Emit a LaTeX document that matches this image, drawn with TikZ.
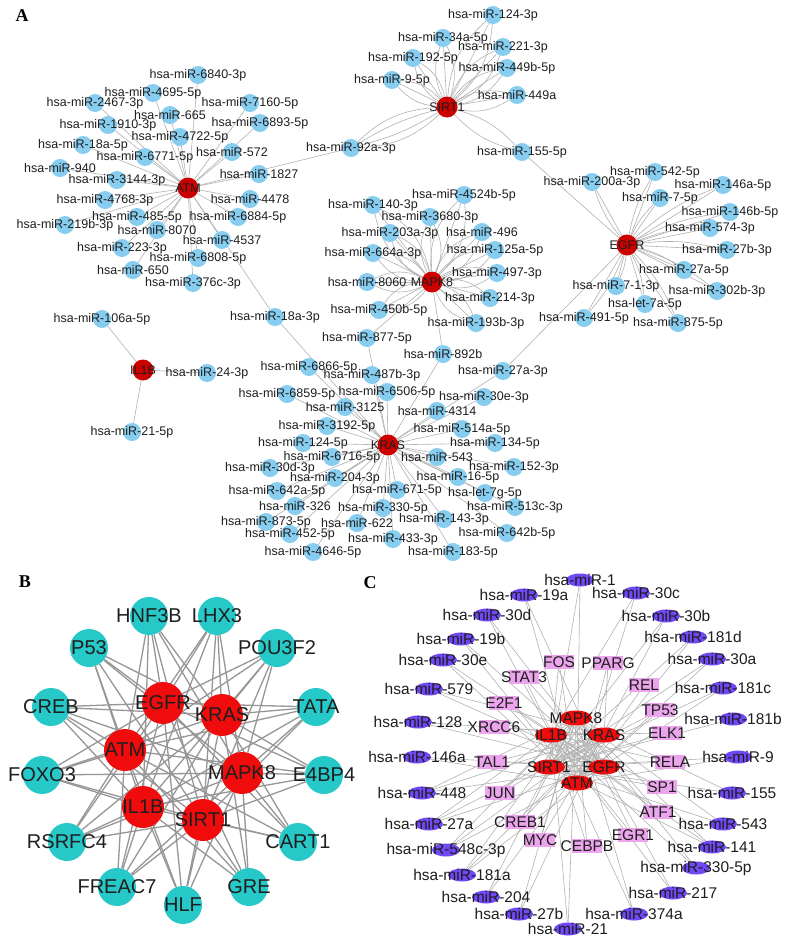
\documentclass[tikz,border=0pt]{standalone}
\usepackage{fontspec}
\setmainfont{Liberation Sans}
\newfontfamily\panelfont{Liberation Serif}
\usetikzlibrary{shapes.geometric}
\definecolor{mirblue}{RGB}{135,205,240}
\definecolor{hubred}{RGB}{205,0,0}
\definecolor{brightred}{RGB}{240,12,12}
\definecolor{tfteal}{RGB}{38,200,200}
\definecolor{mirpurple}{RGB}{112,72,245}
\definecolor{tfpink}{RGB}{236,165,236}
\definecolor{edgegray}{RGB}{178,178,178}
\definecolor{edgedark}{RGB}{150,150,150}
\definecolor{labelink}{RGB}{30,30,30}
\pgfdeclarelayer{edges}
\pgfdeclarelayer{labels}
\pgfsetlayers{edges,main,labels}
\tikzset{
  panelletter/.style={font=\panelfont\bfseries\fontsize{18}{18}\selectfont, inner sep=0pt},
  % panel A
  mirA/.style={circle, fill=mirblue, minimum size=18pt, inner sep=0pt},
  mirAtext/.style={font=\fontsize{12.5}{13}\selectfont, text=labelink, inner sep=0pt},
  hubA/.style={circle, fill=hubred, minimum size=21pt, inner sep=0pt},
  hubAtext/.style={mirAtext},
  edgeA/.style={draw=edgegray, line width=0.6pt},
  % panel B
  tfB/.style={circle, fill=tfteal, minimum size=38pt, inner sep=0pt},
  tfBtext/.style={font=\fontsize{20}{20}\selectfont, text=labelink, inner sep=0pt},
  hubB/.style={circle, fill=brightred, minimum size=42pt, inner sep=0pt},
  hubBtext/.style={tfBtext},
  edgeB/.style={draw=edgedark, line width=1.3pt},
  % panel C
  mirC/.style={ellipse, fill=mirpurple, minimum width=28pt, minimum height=13pt, inner sep=0pt},
  mirCtext/.style={font=\fontsize{15.5}{16}\selectfont, text=labelink, inner sep=0pt},
  tfC/.style={rectangle, fill=tfpink, minimum width=30pt, minimum height=14pt, inner sep=0pt},
  tfCtext/.style={mirCtext},
  hubC/.style={ellipse, fill=brightred, minimum width=32pt, minimum height=15pt, inner sep=0pt},
  hubCtext/.style={mirCtext},
  edgeC/.style={draw=edgegray, line width=0.6pt},
}
% style, name, x, y, text
\newcommand{\netnode}[5]{%
  \node[#1] (#2) at (#3,#4) {};
  \begin{pgfonlayer}{labels}\node[#1text] (#2t) at (#3,#4) {#5};\end{pgfonlayer}}

% panel A data
\def\atmA{
a01/198/75/hsa-miR-6840-3p,
a02/153/93/hsa-miR-4695-5p,
a03/95/103/hsa-miR-2467-3p,
a04/250/103/hsa-miR-7160-5p,
a05/170/115/hsa-miR-665,
a06/108/125/hsa-miR-1910-3p,
a07/260/123/hsa-miR-6893-5p,
a08/180/137/hsa-miR-4722-5p,
a09/83/145/hsa-miR-18a-5p,
a10/145/157/hsa-miR-6771-5p,
a11/232/152/hsa-miR-572,
a12/60/168/hsa-miR-940,
a13/117/180/hsa-miR-3144-3p,
a14/259/174/hsa-miR-1827,
a15/105/200/hsa-miR-4768-3p,
a16/250/199/hsa-miR-4478,
a17/137/217/hsa-miR-485-5p,
a18/238/217/hsa-miR-6884-5p,
a19/65/225/hsa-miR-219b-3p,
a20/157/230/hsa-miR-8070,
a21/222/240/hsa-miR-4537,
a22/122/248/hsa-miR-223-3p,
a23/198/258/hsa-miR-6808-5p,
a24/133/270/hsa-miR-650,
a25/193/283/hsa-miR-376c-3p}
\def\sirtA{
s01/493/15/hsa-miR-124-3p,
s02/443/38/hsa-miR-34a-5p,
s03/503/47/hsa-miR-221-3p,
s04/413/58/hsa-miR-192-5p,
s05/507/68/hsa-miR-449b-5p,
s06/392/80/hsa-miR-9-5p,
s07/517/95/hsa-miR-449a}
\def\egfrA{
e01/655/172/hsa-miR-542-5p,
e02/592/182/hsa-miR-200a-3p,
e03/723/185/hsa-miR-146a-5p,
e04/660/198/hsa-miR-7-5p,
e05/730/212/hsa-miR-146b-5p,
e06/710/228/hsa-miR-574-3p,
e07/727/250/hsa-miR-27b-3p,
e08/684/270/hsa-miR-27a-5p,
e09/616/286/hsa-miR-7-1-3p,
e10/717/291/hsa-miR-302b-3p,
e11/645/304/hsa-let-7a-5p,
e12/584/318/hsa-miR-491-5p,
e13/678/323/hsa-miR-875-5p}
\def\mapkA{
p01/464/195/hsa-miR-4524b-5p,
p02/373/205/hsa-miR-140-3p,
p03/430/217/hsa-miR-3680-3p,
p04/390/233/hsa-miR-203a-3p,
p05/482/232/hsa-miR-496,
p06/495/250/hsa-miR-125a-5p,
p07/373/253/hsa-miR-664a-3p,
p08/497/273/hsa-miR-497-3p,
p09/367/282/hsa-miR-8060,
p10/490/298/hsa-miR-214-3p,
p11/379/310/hsa-miR-450b-5p,
p12/476/323/hsa-miR-193b-3p}
\def\ilA{
i01/102/319/hsa-miR-106a-5p,
i02/207/373/hsa-miR-24-3p,
i03/132/432/hsa-miR-21-5p}
\def\krasA{
k01/309/367/hsa-miR-6866-5p,
k02/372/375/hsa-miR-487b-3p,
k03/287/394/hsa-miR-6859-5p,
k04/387/392/hsa-miR-6506-5p,
k05/484/397/hsa-miR-30e-3p,
k06/345/407/hsa-miR-3125,
k07/437/411/hsa-miR-4314,
k08/327/426/hsa-miR-3192-5p,
k09/462/429/hsa-miR-514a-5p,
k10/303/443/hsa-miR-124-5p,
k11/495/443/hsa-miR-134-5p,
k12/332/457/hsa-miR-6716-5p,
k13/437/457/hsa-miR-543,
k14/270/468/hsa-miR-30d-3p,
k15/514/467/hsa-miR-152-3p,
k16/335/478/hsa-miR-204-3p,
k17/458/477/hsa-miR-16-5p,
k18/277/491/hsa-miR-642a-5p,
k19/397/490/hsa-miR-671-5p,
k20/485/493/hsa-let-7g-5p,
k21/295/506/hsa-miR-326,
k22/383/508/hsa-miR-330-5p,
k23/515/507/hsa-miR-513c-3p,
k24/266/522/hsa-miR-873-5p,
k25/357/523/hsa-miR-622,
k26/444/519/hsa-miR-143-3p,
k27/290/534/hsa-miR-452-5p,
k28/393/539/hsa-miR-433-3p,
k29/507/533/hsa-miR-642b-5p,
k30/313/552/hsa-miR-4646-5p,
k31/453/552/hsa-miR-183-5p}
\def\sharedA{
x92a/351/148/hsa-miR-92a-3p,
x155/522/152/hsa-miR-155-5p,
x18a/275/317/hsa-miR-18a-3p,
x877/367/338/hsa-miR-877-5p,
x892/443/354/hsa-miR-892b,
x27a/503/371/hsa-miR-27a-3p}

% panel B data
\def\tfB{
b01/149/616/HNF3B,
b02/217/616/LHX3,
b03/89/648/P53,
b04/277/648/POU3F2,
b05/51/707/CREB,
b06/316/707/TATA,
b07/42/775/FOXO3,
b08/324/775/E4BP4,
b09/67/842/RSRFC4,
b10/298/842/CART1,
b11/117/887/FREAC7,
b12/183/905/HLF,
b13/249/887/GRE}

% panel C data
\def\mirC{
c01/580/580/hsa-miR-1,
c02/524/595/hsa-miR-19a,
c03/636/593/hsa-miR-30c,
c04/487/615/hsa-miR-30d,
c05/666/616/hsa-miR-30b,
c06/461/639/hsa-miR-19b,
c07/693/637/hsa-miR-181d,
c08/443/660/hsa-miR-30e,
c09/712/659/hsa-miR-30a,
c10/429/689/hsa-miR-579,
c11/723/688/hsa-miR-181c,
c12/418/722/hsa-miR-128,
c13/733/719/hsa-miR-181b,
c14/417/757/hsa-miR-146a,
c15/738/757/hsa-miR-9,
c16/422/793/hsa-miR-448,
c17/732/793/hsa-miR-155,
c18/429/824/hsa-miR-27a,
c19/723/824/hsa-miR-543,
c20/446/850/hsa-miR-548c-3p,
c21/712/847/hsa-miR-141,
c22/696/868/hsa-miR-330-5p,
c23/462/875/hsa-miR-181a,
c24/673/893/hsa-miR-217,
c25/486/897/hsa-miR-204,
c26/634/914/hsa-miR-374a,
c27/519/914/hsa-miR-27b,
c28/568/929/hsa-miR-21}
\def\tfC{
f01/559/662/FOS,
f02/608/663/PPARG,
f03/524/677/STAT3,
f04/644/685/REL,
f05/504/703/E2F1,
f06/660/710/TP53,
f07/494/727/XRCC6,
f08/667/733/ELK1,
f09/492/762/TAL1,
f10/670/762/RELA,
f11/500/793/JUN,
f12/662/787/SP1,
f13/658/812/ATF1,
f14/520/822/CREB1,
f15/633/835/EGR1,
f16/540/840/MYC,
f17/587/846/CEBPB}

\begin{document}
\begin{tikzpicture}[x=1pt,y=-1pt]
\begin{pgfonlayer}{edges}
  \fill[white] (0,0) rectangle (789,945);
\end{pgfonlayer}
\useasboundingbox (0,0) rectangle (789,945);

\node[panelletter] (lA) at (22,16) {A};
\node[panelletter] (lB) at (25,582) {B};
\node[panelletter] (lC) at (370,583) {C};

% ---------- A: miRNA-target network
\netnode{hubA}{atm}{188}{188}{ATM}
\netnode{hubA}{sirt}{447}{107}{SIRT1}
\netnode{hubA}{egfr}{627}{245}{EGFR}
\netnode{hubA}{mapk}{432}{282}{MAPK8}
\netnode{hubA}{ilb}{143}{370}{IL1B}
\netnode{hubA}{kras}{388}{445}{KRAS}
\foreach \n/\x/\y/\t in \atmA {\netnode{mirA}{\n}{\x}{\y}{\t}}
\foreach \n/\x/\y/\t in \sirtA {\netnode{mirA}{\n}{\x}{\y}{\t}}
\foreach \n/\x/\y/\t in \egfrA {\netnode{mirA}{\n}{\x}{\y}{\t}}
\foreach \n/\x/\y/\t in \mapkA {\netnode{mirA}{\n}{\x}{\y}{\t}}
\foreach \n/\x/\y/\t in \ilA {\netnode{mirA}{\n}{\x}{\y}{\t}}
\foreach \n/\x/\y/\t in \krasA {\netnode{mirA}{\n}{\x}{\y}{\t}}
\foreach \n/\x/\y/\t in \sharedA {\netnode{mirA}{\n}{\x}{\y}{\t}}

% ---------- B: TF - hub network
\netnode{hubB}{bEGFR}{163}{703}{EGFR}
\netnode{hubB}{bKRAS}{222}{715}{KRAS}
\netnode{hubB}{bATM}{125}{750}{ATM}
\netnode{hubB}{bMAPK}{242}{773}{MAPK8}
\netnode{hubB}{bIL1B}{143}{807}{IL1B}
\netnode{hubB}{bSIRT}{203}{820}{SIRT1}
\foreach \n/\x/\y/\t in \tfB {\netnode{tfB}{\n}{\x}{\y}{\t}}

% ---------- C: miRNA - TF - hub network
\foreach \n/\x/\y/\t in \mirC {\netnode{mirC}{\n}{\x}{\y}{\t}}
\foreach \n/\x/\y/\t in \tfC {\netnode{tfC}{\n}{\x}{\y}{\t}}
\netnode{hubC}{cMAPK}{576}{718}{MAPK8}
\netnode{hubC}{cIL1B}{551}{735}{IL1B}
\netnode{hubC}{cKRAS}{604}{735}{KRAS}
\netnode{hubC}{cSIRT}{549}{767}{SIRT1}
\netnode{hubC}{cEGFR}{604}{767}{EGFR}
\netnode{hubC}{cATM}{577}{783}{ATM}

\begin{pgfonlayer}{edges}
  % A
  \foreach \n/\x/\y/\t in \atmA {\draw[edgeA] (atm) -- (\n);}
  \foreach \n/\x/\y/\t in \sirtA {
    \draw[edgeA] (sirt) -- (\n);
    \draw[edgeA] (sirt) to[bend left=22] (\n);
    \draw[edgeA] (sirt) to[bend right=22] (\n);}
  \foreach \n/\x/\y/\t in \egfrA {
    \draw[edgeA] (egfr) -- (\n);
    \draw[edgeA] (egfr) to[bend left=10] (\n);}
  \foreach \n/\x/\y/\t in \mapkA {
    \draw[edgeA] (mapk) -- (\n);
    \draw[edgeA] (mapk) to[bend left=25] (\n);
    \draw[edgeA] (mapk) to[bend right=25] (\n);}
  \foreach \n/\x/\y/\t in \ilA {\draw[edgeA] (ilb) -- (\n);}
  \foreach \n/\x/\y/\t in \krasA {\draw[edgeA] (kras) -- (\n);}
  \draw[edgeA] (atm) -- (x92a);
  \foreach \b in {-20,-8,8,20} \draw[edgeA] (sirt) to[bend left=\b] (x92a);
  \draw[edgeA] (sirt) to[bend left=15] (x155);
  \draw[edgeA] (sirt) to[bend right=15] (x155);
  \draw[edgeA] (egfr) -- (x155);
  \draw[edgeA] (atm) -- (x18a);
  \draw[edgeA] (kras) -- (x18a);
  \draw[edgeA] (mapk) -- (x877);
  \draw[edgeA] (kras) -- (x877);
  \draw[edgeA] (mapk) -- (x892);
  \draw[edgeA] (kras) -- (x892);
  \draw[edgeA] (egfr) -- (x27a);
  \draw[edgeA] (kras) -- (x27a);
  % B
  \foreach \n/\x/\y/\t in \tfB {
    \foreach \hb in {bEGFR,bKRAS,bATM,bMAPK,bIL1B,bSIRT}
      \draw[edgeB] (\n) -- (\hb);}
  % C
  \foreach \n in {c01,c02,c03,c04,c05,c06,c07,c08,c09,f01,f02,f03,f04,f06,f05,c14,c15,c11}
    \draw[edgeC] (cATM) -- (\n);
  \foreach \n in {c28,c27,c26,c25,c24,c23,c22,c20,c21,c18,c19,f17,f16,f15,f14,f11,f13,c16,c17}
    \draw[edgeC] (cMAPK) -- (\n);
  \foreach \n in {c07,c09,c11,c13,c15,c17,c19,c21,f06,f08,f10,f12,c01,c05,f01}
    \draw[edgeC] (cSIRT) -- (\n);
  \foreach \n in {c06,c08,c10,c12,c14,c16,c18,c20,c23,f07,f09,f05,f03,c04,c02}
    \draw[edgeC] (cEGFR) -- (\n);
  \foreach \n in {c22,c24,c26,c28,c21,f15,f13,f12,f10,f08,f17,c03}
    \draw[edgeC] (cIL1B) -- (\n);
  \foreach \n in {c25,c27,c23,c20,c18,c16,f11,f14,f16,f09,f07,c12,c10,f02}
    \draw[edgeC] (cKRAS) -- (\n);
\end{pgfonlayer}
\end{tikzpicture}
\end{document}
